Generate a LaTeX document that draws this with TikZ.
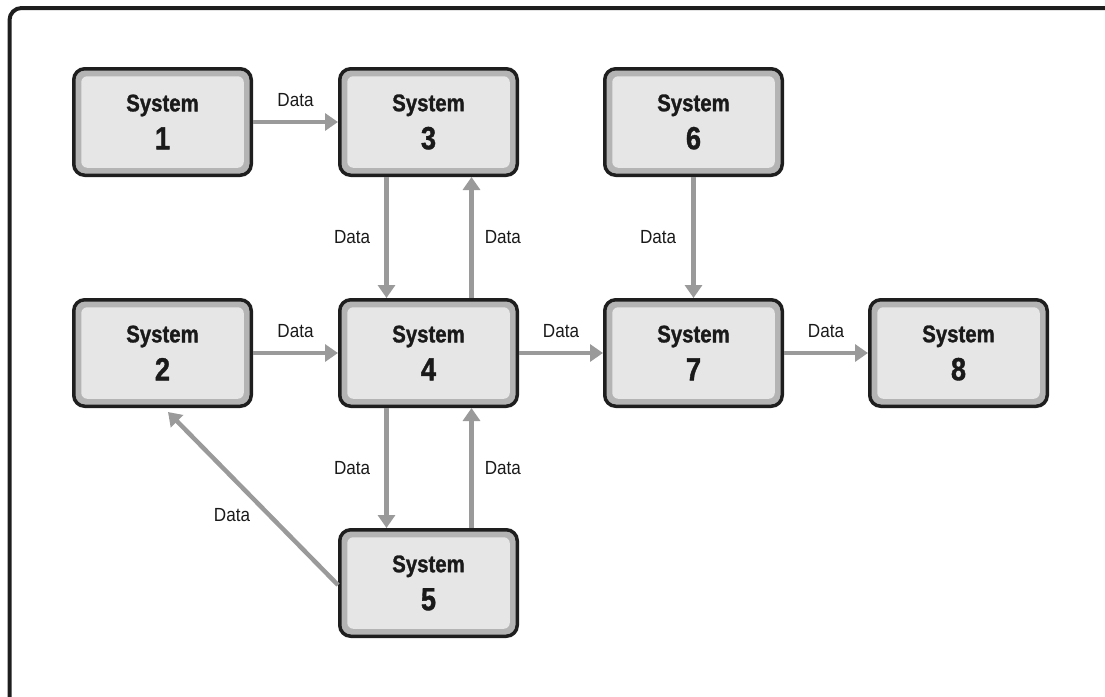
\documentclass[tikz,border=0pt]{standalone}
\usepackage{fontspec}
\newfontfamily\cfont{Liberation Sans}[FakeStretch=0.9]
\newfontfamily\bxfont{Liberation Sans}[FakeStretch=0.85, UprightFont={* Bold}, FakeBold=1.2]
\usetikzlibrary{arrows.meta,calc}
\definecolor{edgec}{HTML}{1E1E1E}
\definecolor{bandc}{HTML}{B4B4B4}
\definecolor{innerc}{HTML}{E6E6E6}
\definecolor{arrc}{HTML}{9A9A9A}
\definecolor{txtc}{HTML}{1A1A1A}
\newcommand\bignum[1]{{\fontsize{32}{38}\selectfont #1}}
\begin{document}
\begin{tikzpicture}[x=1pt,y=-1pt,
  sysbox/.style={draw=edgec, line width=3.5pt, rounded corners=11pt, fill=bandc,
    minimum width=177.5pt, minimum height=106.5pt, inner sep=0pt, align=center,
    text=txtc, font=\bxfont\fontsize{24}{38}\selectfont,
    path picture={\fill[innerc, rounded corners=6pt]
      ($(path picture bounding box.north west)+(7.5pt,-7.5pt)$) rectangle
      ($(path picture bounding box.south east)+(-7.5pt,7.5pt)$);}},
  flow/.style={draw=arrc, line width=4.5pt, -{Triangle[length=13pt,width=17pt]}},
  lab/.style={font=\cfont\fontsize{19}{19}\selectfont, text=txtc, inner sep=0pt},
  frame/.style={draw=edgec, line width=4pt, rounded corners=12pt}]
\useasboundingbox (0,0) rectangle (1105,696);
\clip (0,0) rectangle (1105,696);
\draw[frame] (9.5,8) rectangle (1120,710);

\node[sysbox] (s1) at (162.5,122) {System\\\bignum{1}};
\node[sysbox] (s3) at (428.5,122) {System\\\bignum{3}};
\node[sysbox] (s6) at (693.5,122) {System\\\bignum{6}};
\node[sysbox] (s2) at (162.5,353) {System\\\bignum{2}};
\node[sysbox] (s4) at (428.5,353) {System\\\bignum{4}};
\node[sysbox] (s7) at (693.5,353) {System\\\bignum{7}};
\node[sysbox] (s8) at (958.5,353) {System\\\bignum{8}};
\node[sysbox] (s5) at (428.5,583) {System\\\bignum{5}};

\draw[flow] (s1) -- (s3) node[lab, midway, above=13pt] {Data};
\draw[flow] ([xshift=-42pt]s3.south) -- ([xshift=-42pt]s4.north) node[lab, midway, left=14pt] {Data};
\draw[flow] ([xshift=43pt]s4.north) -- ([xshift=43pt]s3.south) node[lab, midway, right=11pt] {Data};
\draw[flow] (s6) -- (s7) node[lab, midway, left=15pt] {Data};
\draw[flow] (s2) -- (s4) node[lab, midway, above=13pt] {Data};
\draw[flow] (s4) -- (s7) node[lab, midway, above=13pt] {Data};
\draw[flow] (s7) -- (s8) node[lab, midway, above=13pt] {Data};
\draw[flow] ([xshift=-42pt]s4.south) -- ([xshift=-42pt]s5.north) node[lab, midway, left=14pt] {Data};
\draw[flow] ([xshift=43pt]s5.north) -- ([xshift=43pt]s4.south) node[lab, midway, right=11pt] {Data};
\coordinate (d2) at ($(s2.south west)+(96pt,-4pt)$);
\draw[flow] ([yshift=-2pt]s5.west) -- (d2) node[lab, midway, xshift=-21pt, yshift=-17pt] {Data};
\end{tikzpicture}
\end{document}
